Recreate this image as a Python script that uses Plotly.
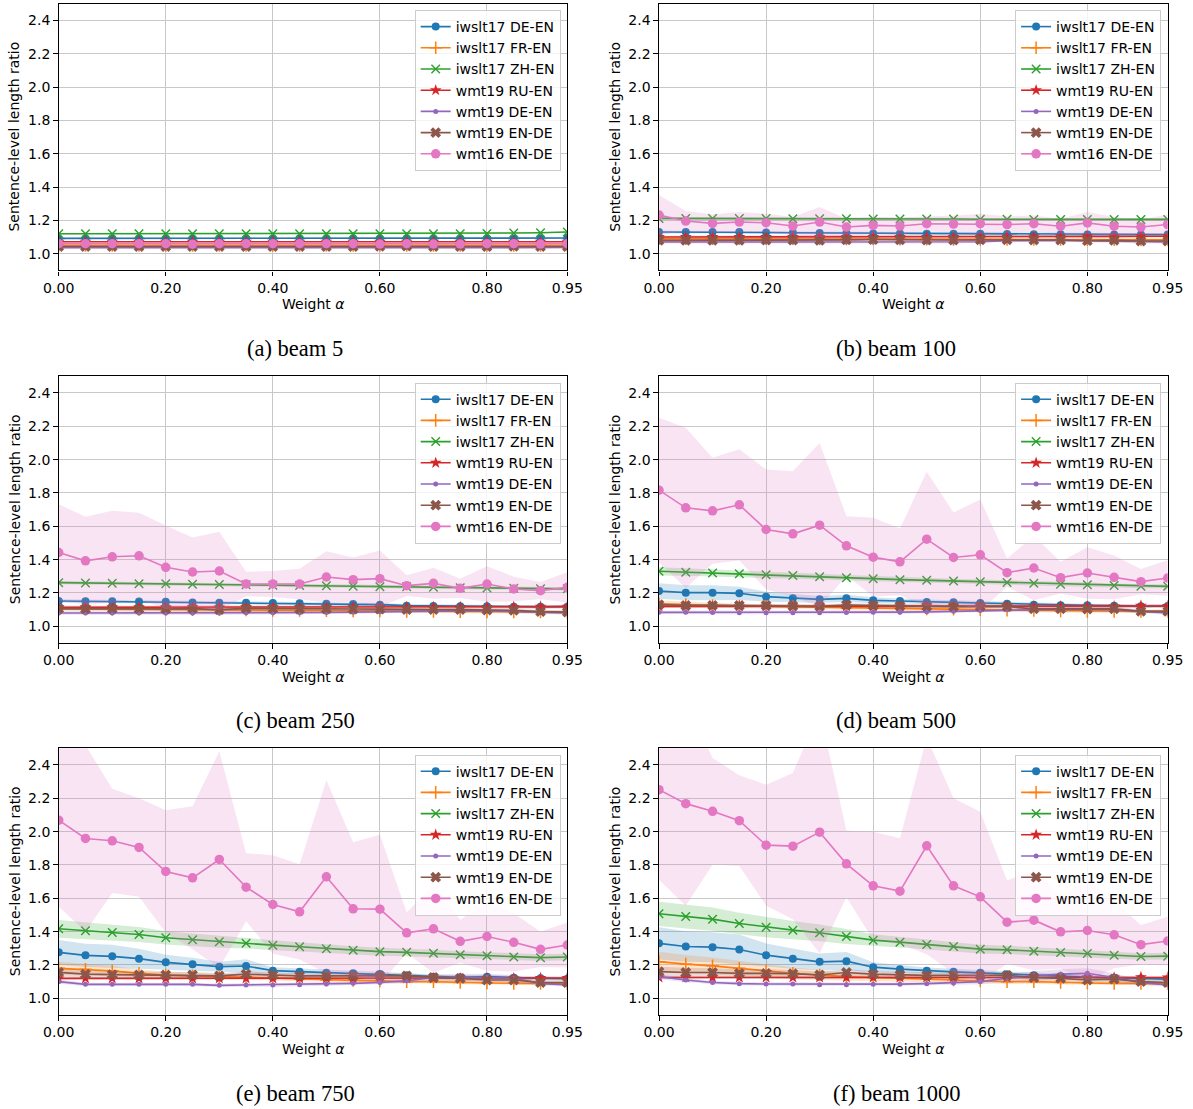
import plotly.graph_objects as go

# ---------------- data ----------------
ALPHA = [0.00, 0.05, 0.10, 0.15, 0.20, 0.25, 0.30, 0.35, 0.40, 0.45,
         0.50, 0.55, 0.60, 0.65, 0.70, 0.75, 0.80, 0.85, 0.90, 0.95]
SERIES = ["iwslt17 DE-EN", "iwslt17 FR-EN", "iwslt17 ZH-EN", "wmt19 RU-EN",
          "wmt19 DE-EN", "wmt19 EN-DE", "wmt16 EN-DE"]
CAPTIONS = ["(a) beam 5", "(b) beam 100", "(c) beam 250",
            "(d) beam 500", "(e) beam 750", "(f) beam 1000"]
X_TICKS = [0.0, 0.2, 0.4, 0.6, 0.8, 0.95]
X_TICK_LABELS = ["0.00", "0.20", "0.40", "0.60", "0.80", "0.95"]
Y_TICKS = [1.0, 1.2, 1.4, 1.6, 1.8, 2.0, 2.2, 2.4]
Y_TICK_LABELS = ["1.0", "1.2", "1.4", "1.6", "1.8", "2.0", "2.2", "2.4"]

# ---- beam 5 ----
B5_DE = [1.092, 1.092, 1.092, 1.092, 1.092, 1.092, 1.092, 1.092, 1.092, 1.092,
         1.092, 1.092, 1.092, 1.092, 1.092, 1.092, 1.092, 1.092, 1.093, 1.094]
B5_FR = [1.05, 1.05, 1.05, 1.05, 1.05, 1.05, 1.05, 1.05, 1.05, 1.05,
         1.05, 1.05, 1.05, 1.05, 1.05, 1.05, 1.05, 1.05, 1.05, 1.05]
B5_ZH = [1.12, 1.12, 1.12, 1.12, 1.12, 1.12, 1.12, 1.12, 1.12, 1.12,
         1.12, 1.12, 1.12, 1.12, 1.12, 1.12, 1.122, 1.124, 1.126, 1.13]
B5_RU = [1.072, 1.072, 1.072, 1.072, 1.072, 1.072, 1.072, 1.072, 1.072, 1.072,
         1.072, 1.072, 1.072, 1.072, 1.072, 1.072, 1.072, 1.072, 1.072, 1.072]
B5_WDE = [1.036, 1.036, 1.036, 1.036, 1.036, 1.036, 1.036, 1.036, 1.036, 1.036,
          1.036, 1.036, 1.036, 1.037, 1.037, 1.037, 1.037, 1.037, 1.037, 1.037]
B5_WEN = [1.043, 1.043, 1.043, 1.043, 1.043, 1.043, 1.043, 1.043, 1.043, 1.043,
          1.043, 1.043, 1.044, 1.046, 1.043, 1.043, 1.043, 1.044, 1.043, 1.043]
B5_W16 = [1.06, 1.06, 1.06, 1.06, 1.06, 1.057, 1.06, 1.06, 1.06, 1.06,
          1.06, 1.06, 1.058, 1.06, 1.058, 1.058, 1.06, 1.06, 1.058, 1.06]
B5_SD = [0.004, 0.004, 0.004, 0.004, 0.004, 0.004, 0.004, 0.004, 0.004, 0.004,
         0.004, 0.004, 0.004, 0.004, 0.004, 0.004, 0.004, 0.004, 0.004, 0.004]

# ---- beam 100 ----
B100_DE = [1.13, 1.13, 1.131, 1.131, 1.127, 1.126, 1.125, 1.125, 1.122, 1.121,
           1.12, 1.12, 1.12, 1.118, 1.117, 1.117, 1.115, 1.115, 1.115, 1.115]
B100_FR = [1.09, 1.09, 1.09, 1.09, 1.09, 1.09, 1.088, 1.088, 1.088, 1.087,
           1.087, 1.086, 1.086, 1.086, 1.085, 1.085, 1.084, 1.084, 1.083, 1.083]
B100_ZH = [1.212, 1.212, 1.212, 1.211, 1.211, 1.21, 1.21, 1.21, 1.209, 1.209,
           1.208, 1.208, 1.207, 1.207, 1.206, 1.205, 1.206, 1.205, 1.205, 1.206]
B100_RU = [1.10, 1.10, 1.10, 1.10, 1.10, 1.10, 1.10, 1.10, 1.10, 1.10,
           1.10, 1.10, 1.102, 1.102, 1.103, 1.103, 1.104, 1.104, 1.105, 1.105]
B100_WDE = [1.07, 1.07, 1.07, 1.07, 1.07, 1.07, 1.07, 1.07, 1.07, 1.07,
            1.07, 1.07, 1.072, 1.078, 1.08, 1.08, 1.078, 1.075, 1.07, 1.07]
B100_WEN = [1.08, 1.08, 1.08, 1.08, 1.082, 1.082, 1.08, 1.083, 1.085, 1.083,
            1.082, 1.082, 1.083, 1.083, 1.082, 1.082, 1.078, 1.08, 1.076, 1.076]
B100_W16 = [1.232, 1.196, 1.182, 1.19, 1.186, 1.166, 1.19, 1.16, 1.17, 1.166,
            1.18, 1.178, 1.18, 1.175, 1.18, 1.165, 1.185, 1.165, 1.16, 1.175]
B100_SD = [0.008, 0.008, 0.008, 0.008, 0.008, 0.008, 0.008, 0.008, 0.008, 0.008,
           0.008, 0.008, 0.008, 0.008, 0.008, 0.008, 0.008, 0.008, 0.008, 0.008]
B100_W16_SD = [0.12, 0.06, 0.055, 0.06, 0.055, 0.055, 0.09, 0.05, 0.05, 0.05,
               0.045, 0.05, 0.06, 0.05, 0.05, 0.045, 0.065, 0.055, 0.045, 0.06]

# ---- beam 250 ----
B250_DE = [1.152, 1.15, 1.15, 1.149, 1.147, 1.143, 1.141, 1.141, 1.14, 1.138,
           1.136, 1.134, 1.13, 1.124, 1.122, 1.121, 1.12, 1.118, 1.117, 1.118]
B250_FR = [1.105, 1.104, 1.103, 1.102, 1.101, 1.10, 1.10, 1.098, 1.096, 1.095,
           1.094, 1.093, 1.092, 1.09, 1.09, 1.088, 1.087, 1.087, 1.086, 1.085]
B250_ZH = [1.262, 1.26, 1.259, 1.256, 1.255, 1.253, 1.251, 1.249, 1.247, 1.245,
           1.243, 1.24, 1.238, 1.237, 1.234, 1.232, 1.23, 1.228, 1.226, 1.225]
B250_RU = [1.114, 1.114, 1.114, 1.114, 1.114, 1.114, 1.114, 1.114, 1.114, 1.114,
           1.114, 1.114, 1.115, 1.115, 1.116, 1.116, 1.117, 1.117, 1.118, 1.118]
B250_WDE = [1.08, 1.08, 1.08, 1.08, 1.08, 1.08, 1.08, 1.081, 1.081, 1.082,
            1.083, 1.085, 1.087, 1.092, 1.093, 1.093, 1.093, 1.09, 1.085, 1.08]
B250_WEN = [1.106, 1.105, 1.106, 1.105, 1.105, 1.106, 1.10, 1.108, 1.106, 1.104,
            1.105, 1.104, 1.103, 1.10, 1.10, 1.10, 1.098, 1.096, 1.088, 1.085]
B250_W16 = [1.443, 1.393, 1.417, 1.423, 1.354, 1.326, 1.332, 1.254, 1.254, 1.254,
            1.296, 1.28, 1.286, 1.244, 1.258, 1.228, 1.254, 1.224, 1.214, 1.234]
B250_SD = [0.01, 0.01, 0.01, 0.01, 0.01, 0.01, 0.01, 0.01, 0.01, 0.01,
           0.01, 0.01, 0.01, 0.01, 0.01, 0.01, 0.01, 0.01, 0.01, 0.01]
B250_W16_SD = [0.29, 0.264, 0.276, 0.258, 0.251, 0.207, 0.235, 0.074, 0.078, 0.091,
               0.155, 0.133, 0.169, 0.062, 0.093, 0.058, 0.107, 0.074, 0.052, 0.091]

# ---- beam 500 ----
B500_DE = [1.212, 1.202, 1.202, 1.198, 1.178, 1.168, 1.162, 1.168, 1.156, 1.152,
           1.146, 1.144, 1.14, 1.136, 1.13, 1.126, 1.126, 1.124, 1.12, 1.122]
B500_FR = [1.135, 1.13, 1.125, 1.122, 1.12, 1.118, 1.115, 1.112, 1.11, 1.108,
           1.105, 1.103, 1.10, 1.097, 1.095, 1.092, 1.09, 1.09, 1.09, 1.09]
B500_ZH = [1.33, 1.325, 1.32, 1.315, 1.31, 1.305, 1.298, 1.292, 1.286, 1.28,
           1.276, 1.272, 1.268, 1.263, 1.258, 1.253, 1.25, 1.245, 1.24, 1.24]
B500_RU = [1.12, 1.12, 1.12, 1.12, 1.12, 1.12, 1.12, 1.12, 1.12, 1.12,
           1.12, 1.12, 1.12, 1.12, 1.12, 1.12, 1.12, 1.12, 1.124, 1.122]
B500_WDE = [1.084, 1.084, 1.083, 1.082, 1.082, 1.082, 1.082, 1.083, 1.084, 1.085,
            1.087, 1.09, 1.095, 1.10, 1.10, 1.102, 1.102, 1.10, 1.09, 1.08]
B500_WEN = [1.13, 1.125, 1.126, 1.125, 1.125, 1.122, 1.12, 1.128, 1.125, 1.122,
            1.12, 1.118, 1.12, 1.118, 1.105, 1.105, 1.103, 1.105, 1.09, 1.09]
B500_W16 = [1.817, 1.711, 1.693, 1.729, 1.581, 1.555, 1.607, 1.483, 1.415, 1.387,
            1.523, 1.413, 1.429, 1.322, 1.35, 1.292, 1.32, 1.294, 1.268, 1.29]
B500_DE_SD = [0.046, 0.045, 0.045, 0.04, 0.03, 0.025, 0.02, 0.022, 0.018, 0.015,
              0.014, 0.013, 0.012, 0.012, 0.011, 0.011, 0.01, 0.01, 0.01, 0.01]
B500_FR_SD = [0.02, 0.018, 0.015, 0.014, 0.013, 0.012, 0.012, 0.011, 0.011, 0.01,
              0.01, 0.01, 0.01, 0.01, 0.01, 0.01, 0.01, 0.01, 0.01, 0.01]
B500_ZH_SD = [0.025, 0.022, 0.02, 0.02, 0.018, 0.018, 0.017, 0.016, 0.015, 0.015,
              0.015, 0.014, 0.014, 0.014, 0.013, 0.013, 0.013, 0.012, 0.012, 0.012]
B500_SD = [0.01, 0.01, 0.01, 0.01, 0.01, 0.01, 0.01, 0.01, 0.01, 0.01,
           0.01, 0.01, 0.01, 0.01, 0.012, 0.012, 0.012, 0.012, 0.01, 0.01]
B500_W16_SD = [0.435, 0.481, 0.318, 0.334, 0.36, 0.376, 0.493, 0.178, 0.236, 0.2,
               0.404, 0.27, 0.332, 0.085, 0.193, 0.095, 0.155, 0.131, 0.076, 0.107]

# ---- beam 750 ----
B750_DE = [1.276, 1.258, 1.252, 1.238, 1.216, 1.204, 1.19, 1.194, 1.166, 1.16,
           1.154, 1.15, 1.146, 1.138, 1.13, 1.126, 1.13, 1.124, 1.12, 1.118]
B750_FR = [1.18, 1.174, 1.165, 1.15, 1.14, 1.135, 1.13, 1.128, 1.12, 1.115,
           1.11, 1.108, 1.105, 1.10, 1.10, 1.095, 1.092, 1.09, 1.09, 1.088]
B750_ZH = [1.417, 1.405, 1.395, 1.383, 1.363, 1.351, 1.339, 1.331, 1.319, 1.309,
           1.298, 1.288, 1.28, 1.276, 1.27, 1.262, 1.256, 1.248, 1.244, 1.248]
B750_RU = [1.12, 1.12, 1.12, 1.12, 1.12, 1.12, 1.12, 1.12, 1.12, 1.12,
           1.12, 1.12, 1.12, 1.12, 1.12, 1.12, 1.12, 1.12, 1.122, 1.122]
B750_WDE = [1.10, 1.084, 1.084, 1.084, 1.084, 1.084, 1.078, 1.08, 1.08, 1.082,
            1.086, 1.09, 1.095, 1.105, 1.125, 1.125, 1.125, 1.12, 1.09, 1.08]
B750_WEN = [1.156, 1.145, 1.142, 1.14, 1.14, 1.14, 1.135, 1.145, 1.14, 1.135,
            1.135, 1.135, 1.135, 1.135, 1.125, 1.12, 1.11, 1.11, 1.095, 1.095]
B750_W16 = [2.069, 1.959, 1.945, 1.905, 1.761, 1.723, 1.833, 1.667, 1.563, 1.519,
            1.729, 1.537, 1.535, 1.393, 1.417, 1.342, 1.371, 1.336, 1.294, 1.32]
B750_DE_SD = [0.074, 0.07, 0.07, 0.06, 0.045, 0.04, 0.03, 0.04, 0.02, 0.018,
              0.016, 0.015, 0.014, 0.013, 0.012, 0.012, 0.012, 0.011, 0.011, 0.011]
B750_FR_SD = [0.04, 0.035, 0.03, 0.025, 0.02, 0.018, 0.016, 0.015, 0.014, 0.013,
              0.012, 0.012, 0.012, 0.011, 0.011, 0.011, 0.01, 0.01, 0.01, 0.01]
B750_ZH_SD = [0.053, 0.05, 0.048, 0.045, 0.04, 0.038, 0.035, 0.032, 0.03, 0.028,
              0.026, 0.025, 0.024, 0.023, 0.022, 0.021, 0.02, 0.02, 0.02, 0.02]
B750_WEN_SD = [0.025, 0.022, 0.02, 0.02, 0.018, 0.018, 0.016, 0.016, 0.015, 0.015,
               0.015, 0.015, 0.015, 0.015, 0.014, 0.014, 0.014, 0.013, 0.013, 0.013]
B750_WDE_SD = [0.012, 0.01, 0.01, 0.01, 0.01, 0.01, 0.01, 0.01, 0.01, 0.01,
               0.01, 0.01, 0.012, 0.015, 0.02, 0.02, 0.022, 0.02, 0.012, 0.01]
B750_RU_SD = [0.008, 0.008, 0.008, 0.008, 0.008, 0.008, 0.008, 0.008, 0.008, 0.008,
              0.008, 0.008, 0.008, 0.008, 0.008, 0.008, 0.008, 0.008, 0.008, 0.008]
B750_W16_SD = [0.518, 0.56, 0.313, 0.295, 0.367, 0.429, 0.649, 0.204, 0.296, 0.286,
               0.579, 0.4, 0.446, 0.122, 0.264, 0.129, 0.206, 0.175, 0.106, 0.135]

# ---- beam 1000 ----
B1000_DE = [1.33, 1.311, 1.307, 1.293, 1.259, 1.237, 1.219, 1.223, 1.187, 1.175,
            1.165, 1.159, 1.153, 1.145, 1.139, 1.133, 1.127, 1.123, 1.119, 1.115]
B1000_FR = [1.22, 1.205, 1.195, 1.18, 1.165, 1.15, 1.14, 1.13, 1.125, 1.12,
            1.115, 1.11, 1.105, 1.10, 1.10, 1.095, 1.092, 1.09, 1.09, 1.088]
B1000_ZH = [1.507, 1.491, 1.475, 1.449, 1.427, 1.409, 1.393, 1.371, 1.349, 1.337,
            1.323, 1.311, 1.295, 1.291, 1.283, 1.275, 1.269, 1.259, 1.251, 1.253]
B1000_RU = [1.125, 1.125, 1.125, 1.125, 1.125, 1.125, 1.125, 1.125, 1.125, 1.125,
            1.125, 1.125, 1.125, 1.125, 1.125, 1.125, 1.125, 1.125, 1.127, 1.125]
B1000_WDE = [1.13, 1.11, 1.095, 1.088, 1.086, 1.086, 1.082, 1.082, 1.085, 1.085,
             1.088, 1.092, 1.10, 1.12, 1.135, 1.145, 1.15, 1.125, 1.095, 1.08]
B1000_WEN = [1.16, 1.155, 1.155, 1.15, 1.15, 1.148, 1.14, 1.155, 1.145, 1.14,
             1.138, 1.138, 1.138, 1.138, 1.125, 1.12, 1.11, 1.115, 1.10, 1.095]
B1000_W16 = [2.252, 2.168, 2.122, 2.066, 1.919, 1.913, 1.997, 1.807, 1.675, 1.643,
             1.915, 1.675, 1.609, 1.457, 1.469, 1.399, 1.407, 1.381, 1.322, 1.344]
B1000_DE_SD = [0.097, 0.092, 0.09, 0.09, 0.07, 0.06, 0.05, 0.055, 0.03, 0.025,
               0.02, 0.018, 0.016, 0.015, 0.014, 0.013, 0.012, 0.012, 0.011, 0.011]
B1000_FR_SD = [0.06, 0.055, 0.05, 0.045, 0.04, 0.035, 0.03, 0.025, 0.022, 0.02,
               0.018, 0.016, 0.015, 0.014, 0.013, 0.012, 0.012, 0.011, 0.011, 0.01]
B1000_ZH_SD = [0.073, 0.072, 0.07, 0.065, 0.06, 0.055, 0.05, 0.045, 0.035, 0.032,
               0.03, 0.028, 0.026, 0.025, 0.024, 0.023, 0.022, 0.021, 0.02, 0.02]
B1000_WEN_SD = [0.03, 0.028, 0.026, 0.025, 0.024, 0.022, 0.02, 0.02, 0.019, 0.018,
                0.018, 0.017, 0.017, 0.016, 0.016, 0.015, 0.015, 0.015, 0.014, 0.014]
B1000_WDE_SD = [0.015, 0.012, 0.01, 0.01, 0.01, 0.01, 0.01, 0.01, 0.01, 0.01,
                0.01, 0.012, 0.015, 0.022, 0.028, 0.03, 0.03, 0.025, 0.015, 0.01]
B1000_RU_SD = [0.008, 0.008, 0.008, 0.008, 0.008, 0.008, 0.008, 0.008, 0.008, 0.008,
               0.008, 0.008, 0.008, 0.008, 0.008, 0.008, 0.008, 0.008, 0.008, 0.008]
B1000_W16_SD = [0.541, 0.613, 0.32, 0.272, 0.363, 0.439, 0.727, 0.2, 0.325, 0.317,
                0.65, 0.525, 0.511, 0.25, 0.3, 0.22, 0.3, 0.2, 0.118, 0.146]

PANELS = [
    ([B5_DE, B5_FR, B5_ZH, B5_RU, B5_WDE, B5_WEN, B5_W16],
     [B5_SD, B5_SD, B5_SD, B5_SD, B5_SD, B5_SD, B5_SD]),
    ([B100_DE, B100_FR, B100_ZH, B100_RU, B100_WDE, B100_WEN, B100_W16],
     [B100_SD, B100_SD, B100_SD, B100_SD, B100_SD, B100_SD, B100_W16_SD]),
    ([B250_DE, B250_FR, B250_ZH, B250_RU, B250_WDE, B250_WEN, B250_W16],
     [B250_SD, B250_SD, B250_SD, B250_SD, B250_SD, B250_SD, B250_W16_SD]),
    ([B500_DE, B500_FR, B500_ZH, B500_RU, B500_WDE, B500_WEN, B500_W16],
     [B500_DE_SD, B500_FR_SD, B500_ZH_SD, B500_SD, B500_SD, B500_SD, B500_W16_SD]),
    ([B750_DE, B750_FR, B750_ZH, B750_RU, B750_WDE, B750_WEN, B750_W16],
     [B750_DE_SD, B750_FR_SD, B750_ZH_SD, B750_RU_SD, B750_WDE_SD, B750_WEN_SD, B750_W16_SD]),
    ([B1000_DE, B1000_FR, B1000_ZH, B1000_RU, B1000_WDE, B1000_WEN, B1000_W16],
     [B1000_DE_SD, B1000_FR_SD, B1000_ZH_SD, B1000_RU_SD, B1000_WDE_SD, B1000_WEN_SD, B1000_W16_SD]),
]

# ---------------- style ----------------
COLORS = ["#1f77b4", "#ff7f0e", "#2ca02c", "#d62728", "#9467bd", "#8c564b", "#e377c2"]
BAND_COLORS = ["rgba(31,119,180,0.2)", "rgba(255,127,14,0.2)", "rgba(44,160,44,0.2)",
               "rgba(214,39,40,0.2)", "rgba(148,103,189,0.2)", "rgba(140,86,75,0.2)",
               "rgba(227,119,194,0.2)"]
MARKERS = [
    dict(symbol="circle", size=8),
    dict(symbol="cross-thin", size=9, line=dict(width=1.5, color=COLORS[1])),
    dict(symbol="x-thin", size=8.5, line=dict(width=1.4, color=COLORS[2])),
    dict(symbol="star", size=9),
    dict(symbol="circle", size=5),
    dict(symbol="x", size=9.5),
    dict(symbol="circle", size=9.5),
]

W, H = 1193, 1109
COL_X = [(58.7, 567.3), (659.0, 1167.7)]
ROW_Y = [(3.7, 270.4), (376.3, 643.0), (748.3, 1015.0)]
CAP_X = [295, 896]
CAP_Y = [348, 720.6, 1093.2]
FONT = "DejaVu Sans"


def px(x):
    return x / W


def py(y):
    return 1 - y / H


fig = go.Figure()
annotations = []
layout = dict(width=W, height=H,
              margin=dict(l=0, r=0, t=0, b=0, pad=0, autoexpand=False),
              autosize=False, paper_bgcolor="white", plot_bgcolor="white",
              showlegend=True)

for k, (means, sds) in enumerate(PANELS):
    r, c = divmod(k, 2)
    idx = k + 1
    xa = "x" if idx == 1 else f"x{idx}"
    ya = "y" if idx == 1 else f"y{idx}"
    leg = "legend" if idx == 1 else f"legend{idx}"
    x0, x1 = COL_X[c]
    y0, y1 = ROW_Y[r]
    for s in range(7):
        m, sd = means[s], sds[s]
        hi = [a + b for a, b in zip(m, sd)]
        lo = [a - b for a, b in zip(m, sd)]
        fig.add_trace(go.Scatter(
            x=ALPHA + ALPHA[::-1], y=hi + lo[::-1], xaxis=xa, yaxis=ya,
            fill="toself", fillcolor=BAND_COLORS[s], line=dict(width=0),
            mode="lines", showlegend=False, hoverinfo="skip", legend=leg))
        mk = dict(MARKERS[s])
        mk["color"] = COLORS[s]
        fig.add_trace(go.Scatter(
            x=ALPHA, y=m, xaxis=xa, yaxis=ya, mode="lines+markers",
            name=SERIES[s], line=dict(color=COLORS[s], width=1.6),
            marker=mk, legend=leg, showlegend=True))

    axis_common = dict(showline=True, mirror=True, linecolor="black", linewidth=1.2,
                       ticks="outside", ticklen=4.5, tickwidth=1, tickcolor="black",
                       showgrid=True, gridcolor="#c8c8c8", gridwidth=1, zeroline=False,
                       automargin=False,
                       tickfont=dict(family=FONT, size=14, color="black"))
    layout["xaxis" + ("" if idx == 1 else str(idx))] = dict(
        axis_common, domain=[px(x0), px(x1)], anchor=ya, range=[0, 0.95],
        tickmode="array", tickvals=X_TICKS, ticktext=X_TICK_LABELS)
    layout["yaxis" + ("" if idx == 1 else str(idx))] = dict(
        axis_common, domain=[py(y1), py(y0)], anchor=xa, range=[0.9, 2.5],
        tickmode="array", tickvals=Y_TICKS, ticktext=Y_TICK_LABELS)

    layout[leg] = dict(
        x=px(x1 - 6.6), y=py(y0 + 6.3), xanchor="right", yanchor="top",
        xref="paper", yref="paper",
        font=dict(family=FONT, size=14, color="black"),
        bgcolor="rgba(255,255,255,0.8)", bordercolor="#cccccc", borderwidth=1)

    annotations.append(dict(
        text="Sentence-level length ratio", x=px(x0 - 44.2), y=py((y0 + y1) / 2),
        xref="paper", yref="paper", showarrow=False, textangle=-90,
        xanchor="center", yanchor="middle",
        font=dict(family=FONT, size=14, color="black")))
    annotations.append(dict(
        text="Weight <i>α</i>", x=px((x0 + x1) / 2), y=py(y1 + 33.5),
        xref="paper", yref="paper", showarrow=False,
        xanchor="center", yanchor="middle",
        font=dict(family=FONT, size=14, color="black")))
    annotations.append(dict(
        text=CAPTIONS[k], x=px(CAP_X[c]), y=py(CAP_Y[r]),
        xref="paper", yref="paper", showarrow=False,
        xanchor="center", yanchor="middle",
        font=dict(family="Liberation Serif", size=22.5, color="black")))

layout["annotations"] = annotations
fig.update_layout(**layout)
fig.write_html("out.html")
